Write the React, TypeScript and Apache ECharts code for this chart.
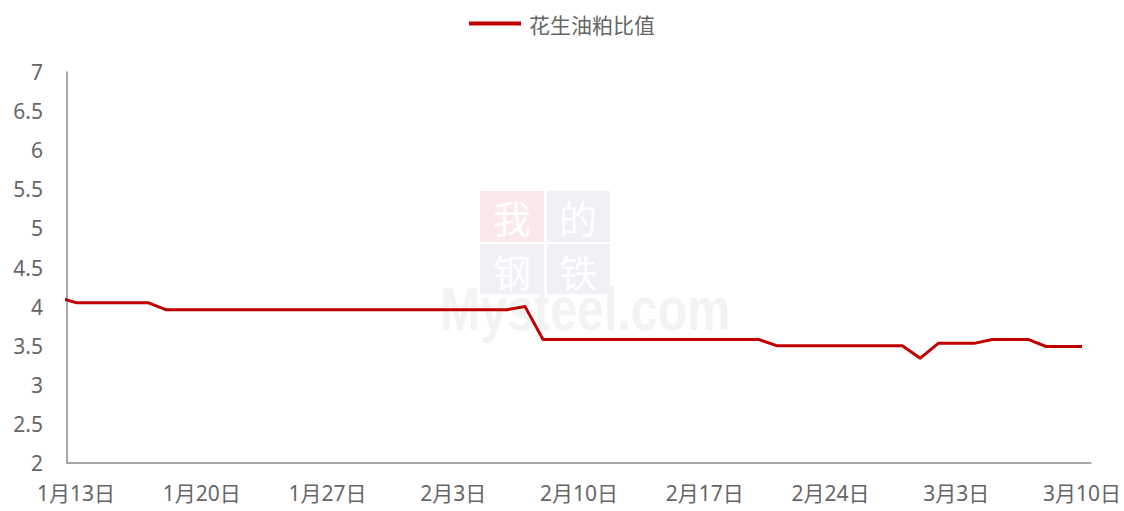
import React, { useEffect, useRef } from "react";
import * as echarts from "echarts";

// Daily categories; the first one (1月12日) lies just outside the visible axis range
const categories = [
  "1月12日", "1月13日", "1月14日", "1月15日", "1月16日", "1月17日", "1月18日", "1月19日",
  "1月20日", "1月21日", "1月22日", "1月23日", "1月24日", "1月25日", "1月26日",
  "1月27日", "1月28日", "1月29日", "1月30日", "1月31日", "2月1日", "2月2日",
  "2月3日", "2月4日", "2月5日", "2月6日", "2月7日", "2月8日", "2月9日",
  "2月10日", "2月11日", "2月12日", "2月13日", "2月14日", "2月15日", "2月16日",
  "2月17日", "2月18日", "2月19日", "2月20日", "2月21日", "2月22日", "2月23日",
  "2月24日", "2月25日", "2月26日", "2月27日", "2月28日", "3月1日", "3月2日",
  "3月3日", "3月4日", "3月5日", "3月6日", "3月7日", "3月8日", "3月9日",
  "3月10日",
];

const ratioValues = [
  4.12,
  4.05, 4.05, 4.05, 4.05, 4.05,
  3.96, 3.96, 3.96, 3.96, 3.96, 3.96, 3.96, 3.96, 3.96, 3.96,
  3.96, 3.96, 3.96, 3.96, 3.96, 3.96, 3.96, 3.96, 3.96, 3.96,
  4.0,
  3.58, 3.58, 3.58, 3.58, 3.58, 3.58, 3.58, 3.58, 3.58, 3.58, 3.58, 3.58, 3.58,
  3.5, 3.5, 3.5, 3.5, 3.5, 3.5, 3.5, 3.5,
  3.34,
  3.53, 3.53, 3.53,
  3.58, 3.58, 3.58,
  3.49, 3.49, 3.49,
];

const seriesName = "花生油粕比值";
const yMin = 2;
const yMax = 7;
const yStep = 0.5;

const FONT = '"Noto Sans", "Noto Sans CJK SC", sans-serif';
const WM_FONT = '38px "Noto Sans CJK SC"';

export default function App() {
  const ref = useRef<HTMLDivElement>(null);

  useEffect(() => {
    document.body.style.margin = "0";
    const chart = echarts.init(ref.current!, null, { renderer: "svg" });
    chart.setOption({
      animation: false,
      backgroundColor: "#ffffff",
      grid: { left: 67, right: 33, top: 72, bottom: 48, containLabel: false },
      legend: {
        top: 8,
        left: "center",
        icon: "rect",
        itemWidth: 52,
        itemHeight: 4,
        itemGap: 10,
        textStyle: { fontFamily: '"Noto Sans CJK SC", sans-serif', fontSize: 21, color: "#666666", padding: [0, 0, 0, 3] },
        data: [seriesName],
      },
      graphic: [
        { type: "rect", z: -10, shape: { x: 480, y: 191, width: 64, height: 51 }, style: { fill: "#fbe9e9" }, silent: true },
        { type: "rect", z: -10, shape: { x: 547, y: 191, width: 63, height: 51 }, style: { fill: "#eff1f6" }, silent: true },
        { type: "rect", z: -10, shape: { x: 480, y: 244, width: 64, height: 50 }, style: { fill: "#eff1f6" }, silent: true },
        { type: "rect", z: -10, shape: { x: 547, y: 244, width: 63, height: 50 }, style: { fill: "#eff1f6" }, silent: true },
        { type: "text", z: -9, x: 512, y: 216, silent: true, style: { text: "我", fill: "#ffffff", font: WM_FONT, align: "center", verticalAlign: "middle" } },
        { type: "text", z: -9, x: 578, y: 216, silent: true, style: { text: "的", fill: "#ffffff", font: WM_FONT, align: "center", verticalAlign: "middle" } },
        { type: "text", z: -9, x: 512, y: 270, silent: true, style: { text: "钢", fill: "#ffffff", font: WM_FONT, align: "center", verticalAlign: "middle" } },
        { type: "text", z: -9, x: 578, y: 270, silent: true, style: { text: "铁", fill: "#ffffff", font: WM_FONT, align: "center", verticalAlign: "middle" } },
        { type: "text", z: -9, x: 440, y: 278, scaleX: 0.78, silent: true, style: { text: "Mysteel.com", fill: "#f3f3f3", font: 'bold 62px "Liberation Sans"', align: "left", verticalAlign: "top" } },
      ],
      xAxis: {
        type: "category",
        data: categories,
        min: 1,
        boundaryGap: true,
        axisLine: { show: true, lineStyle: { color: "#8a8a8a", width: 1.5 } },
        axisTick: { show: false },
        splitLine: { show: false },
        axisLabel: {
          interval: (index: number) => index >= 1 && (index - 1) % 7 === 0,
          margin: 19,
          fontFamily: FONT,
          fontSize: 21,
          color: "#666666",
        },
      },
      yAxis: {
        type: "value",
        min: yMin,
        max: yMax,
        interval: yStep,
        axisLine: { show: true, lineStyle: { color: "#8a8a8a", width: 1.5 } },
        axisTick: { show: false },
        splitLine: { show: false },
        axisLabel: {
          margin: 24,
          fontFamily: FONT,
          fontSize: 21,
          color: "#666666",
        },
      },
      series: [
        {
          name: seriesName,
          type: "line",
          data: ratioValues,
          clip: true,
          showSymbol: false,
          symbol: "none",
          lineStyle: { color: "#C00000", width: 3, join: "round" },
          itemStyle: { color: "#C00000" },
          z: 3,
        },
      ],
    });
    return () => chart.dispose();
  }, []);

  return <div ref={ref} style={{ width: 1124, height: 511 }} />;
}
